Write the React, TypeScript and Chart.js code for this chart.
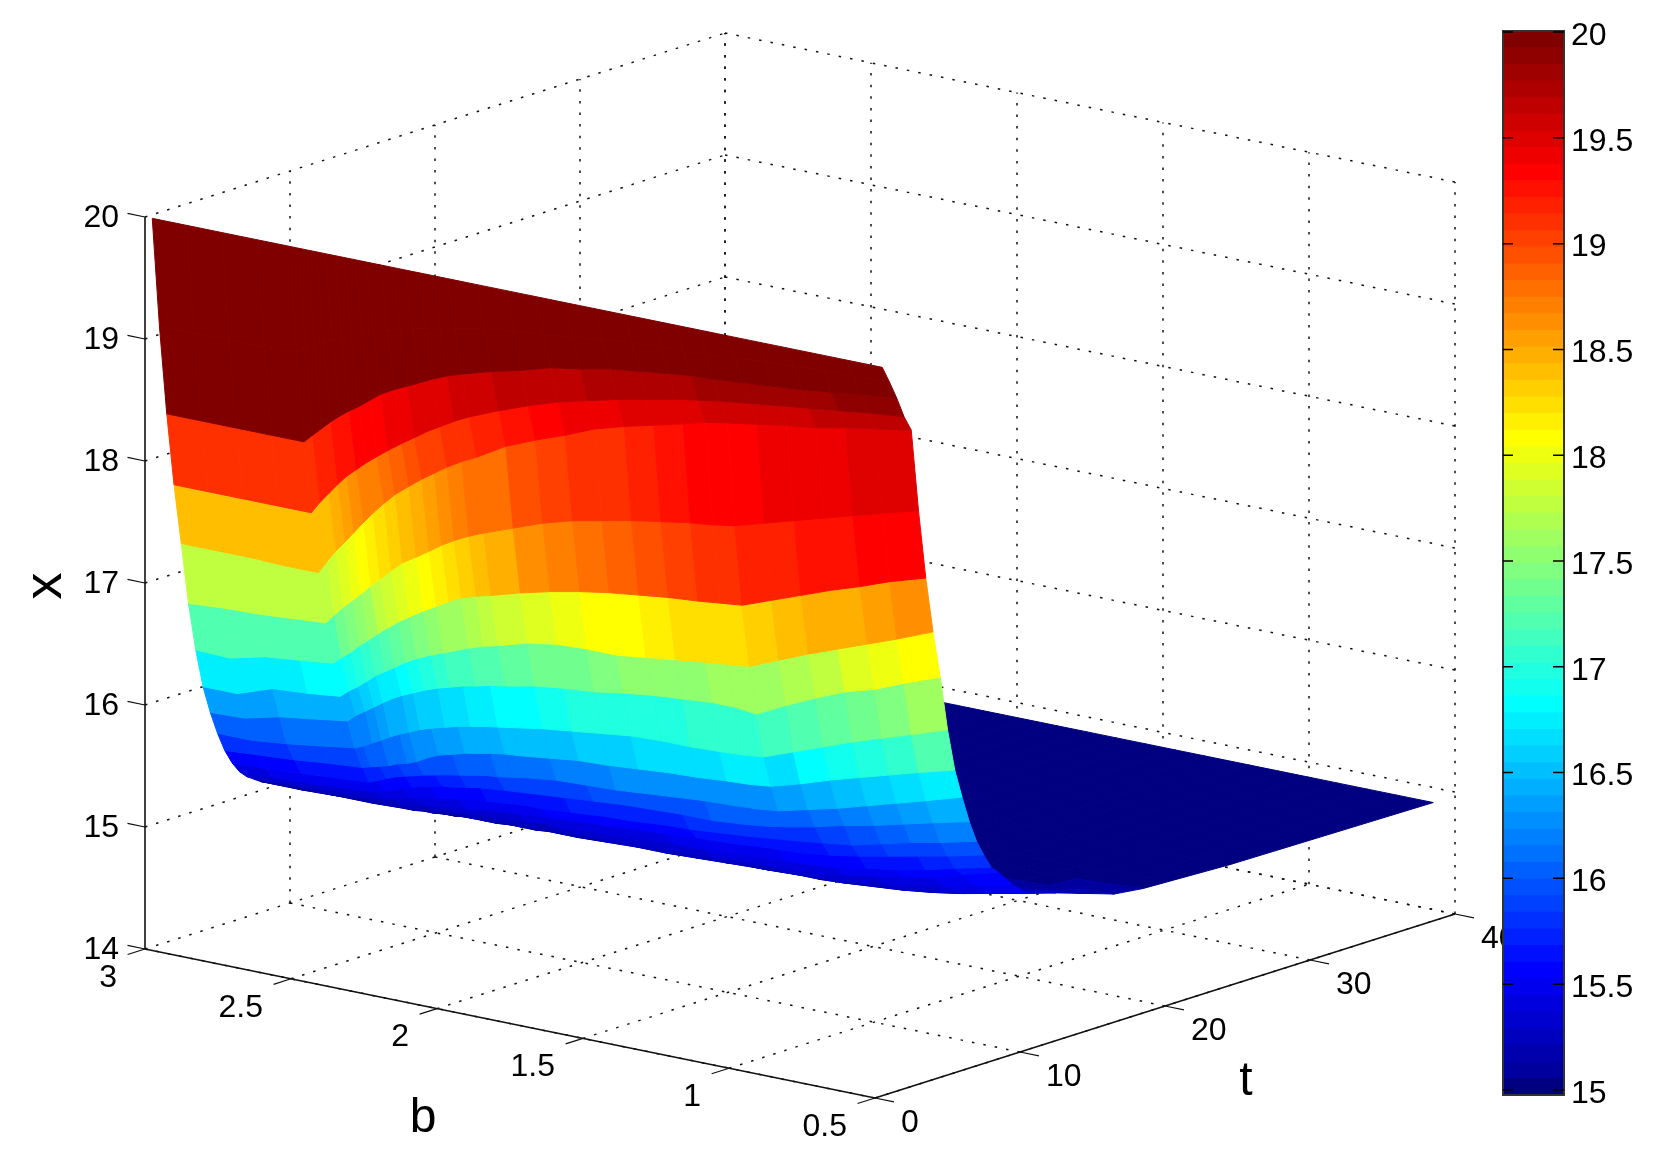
import { useEffect, useRef } from 'react';
import { Chart, registerables } from 'chart.js';

Chart.register(...registerables);

const W = 1659;
const H = 1171;
const FONT = '"Liberation Sans", Arial, sans-serif';

// axis ticks
const bTicks = [3, 2.5, 2, 1.5, 1, 0.5];
const tTicks = [0, 10, 20, 30, 40];
const xTicks = [14, 15, 16, 17, 18, 19, 20];
const barTicks = [15, 15.5, 16, 16.5, 17, 17.5, 18, 18.5, 19, 19.5, 20];

// surface grid
const bValues = [
  3, 2.883, 2.762, 2.641, 2.53, 2.5, 2.469, 2.438, 2.408, 2.375, 2.343, 2.305, 2.267, 2.22, 2.176,
  2.133, 2.09, 2.04, 1.989, 1.888, 1.787, 1.685, 1.584, 1.483, 1.382, 1.281, 1.205, 1.129, 1.028,
  0.927, 0.826, 0.725, 0.624, 0.5,
];
const tValues = [
  0.5, 1, 1.5, 2, 2.5, 3, 3.5, 4, 4.5, 5, 5.5, 6, 6.5, 7, 7.5, 8, 8.5, 9.5, 10.5, 12.5, 14.5, 16.5,
  18.5, 20.5, 24.5, 38.5,
];
const xRows = [
  [20, 20, 20, 20, 20, 20, 20, 20, 20, 20, 20, 20, 20, 20, 20, 20, 20, 20, 20, 20, 20, 20, 20, 20, 20, 20, 20, 20, 20, 20, 20, 20, 20, 20],
  [19.09, 19.1, 19.1, 19.1, 19.12, 19.16, 19.2, 19.24, 19.27, 19.3, 19.33, 19.37, 19.41, 19.44, 19.47, 19.5, 19.52, 19.55, 19.57, 19.62, 19.65, 19.67, 19.7, 19.73, 19.75, 19.76, 19.77, 19.78, 19.8, 19.82, 19.83, 19.85, 19.85, 19.86],
  [18.36, 18.36, 18.36, 18.36, 18.36, 18.43, 18.5, 18.57, 18.63, 18.69, 18.74, 18.81, 18.88, 18.94, 18.99, 19.04, 19.09, 19.14, 19.18, 19.25, 19.31, 19.38, 19.42, 19.47, 19.5, 19.53, 19.55, 19.56, 19.58, 19.6, 19.62, 19.65, 19.68, 19.71],
  [17.76, 17.76, 17.76, 17.76, 17.76, 17.86, 17.95, 18.04, 18.12, 18.19, 18.26, 18.33, 18.4, 18.48, 18.55, 18.62, 18.68, 18.75, 18.81, 18.91, 19, 19.08, 19.14, 19.2, 19.25, 19.3, 19.33, 19.36, 19.39, 19.42, 19.45, 19.48, 19.51, 19.54],
  [17.26, 17.26, 17.26, 17.25, 17.25, 17.36, 17.46, 17.55, 17.64, 17.74, 17.83, 17.93, 18.02, 18.11, 18.19, 18.26, 18.33, 18.4, 18.46, 18.6, 18.7, 18.79, 18.89, 18.96, 19.02, 19.08, 19.13, 19.16, 19.2, 19.24, 19.27, 19.32, 19.36, 19.41],
  [16.75, 16.77, 16.78, 16.8, 16.82, 16.9, 16.98, 17.05, 17.12, 17.2, 17.27, 17.36, 17.44, 17.51, 17.58, 17.65, 17.71, 17.77, 17.82, 17.91, 18, 18.07, 18.12, 18.17, 18.21, 18.25, 18.27, 18.3, 18.37, 18.44, 18.51, 18.58, 18.65, 18.73],
  [16.35, 16.34, 16.41, 16.44, 16.47, 16.53, 16.59, 16.66, 16.72, 16.79, 16.85, 16.92, 16.98, 17.05, 17.11, 17.17, 17.22, 17.26, 17.29, 17.36, 17.42, 17.47, 17.51, 17.54, 17.57, 17.59, 17.61, 17.63, 17.72, 17.81, 17.9, 17.98, 18.07, 18.16],
  [16.03, 16.03, 16.13, 16.15, 16.18, 16.24, 16.29, 16.35, 16.41, 16.46, 16.51, 16.57, 16.62, 16.67, 16.71, 16.75, 16.79, 16.83, 16.86, 16.93, 16.97, 16.98, 16.98, 17.01, 17.04, 17.07, 17.09, 17.11, 17.21, 17.31, 17.4, 17.49, 17.58, 17.7],
  [15.8, 15.81, 15.88, 15.92, 15.96, 16.02, 16.07, 16.12, 16.17, 16.22, 16.26, 16.3, 16.34, 16.38, 16.41, 16.44, 16.46, 16.49, 16.51, 16.56, 16.59, 16.61, 16.65, 16.68, 16.7, 16.72, 16.72, 16.7, 16.82, 16.93, 17.03, 17.1, 17.2, 17.31],
  [15.61, 15.61, 15.64, 15.68, 15.72, 15.75, 15.79, 15.83, 15.87, 15.91, 15.94, 15.98, 16.01, 16.04, 16.07, 16.09, 16.11, 16.13, 16.15, 16.19, 16.22, 16.25, 16.28, 16.29, 16.29, 16.3, 16.31, 16.33, 16.42, 16.51, 16.6, 16.68, 16.76, 16.86],
  [15.45, 15.47, 15.49, 15.52, 15.54, 15.56, 15.58, 15.6, 15.63, 15.65, 15.68, 15.73, 15.77, 15.8, 15.83, 15.85, 15.87, 15.89, 15.9, 15.93, 15.96, 15.97, 15.99, 16.01, 16.02, 16.04, 16.05, 16.07, 16.14, 16.22, 16.29, 16.36, 16.43, 16.51],
  [15.33, 15.34, 15.36, 15.38, 15.4, 15.43, 15.46, 15.49, 15.51, 15.53, 15.55, 15.57, 15.59, 15.61, 15.63, 15.65, 15.66, 15.68, 15.7, 15.73, 15.74, 15.75, 15.77, 15.79, 15.81, 15.82, 15.83, 15.85, 15.91, 15.97, 16.04, 16.11, 16.18, 16.27],
  [15.24, 15.25, 15.26, 15.28, 15.3, 15.32, 15.35, 15.38, 15.4, 15.42, 15.44, 15.46, 15.47, 15.49, 15.51, 15.52, 15.53, 15.54, 15.55, 15.57, 15.59, 15.61, 15.62, 15.63, 15.63, 15.65, 15.67, 15.7, 15.75, 15.81, 15.86, 15.92, 15.98, 16.05],
  [15.18, 15.19, 15.2, 15.21, 15.22, 15.24, 15.26, 15.28, 15.29, 15.31, 15.32, 15.34, 15.35, 15.37, 15.38, 15.39, 15.4, 15.41, 15.41, 15.43, 15.45, 15.46, 15.48, 15.49, 15.51, 15.53, 15.55, 15.57, 15.6, 15.63, 15.69, 15.75, 15.8, 15.87],
  [15.14, 15.15, 15.15, 15.16, 15.17, 15.18, 15.19, 15.2, 15.21, 15.22, 15.23, 15.24, 15.25, 15.27, 15.28, 15.29, 15.3, 15.31, 15.32, 15.34, 15.35, 15.37, 15.38, 15.4, 15.41, 15.43, 15.44, 15.45, 15.48, 15.52, 15.57, 15.62, 15.67, 15.74],
  [15.1, 15.11, 15.11, 15.12, 15.13, 15.13, 15.14, 15.15, 15.15, 15.16, 15.17, 15.18, 15.19, 15.2, 15.2, 15.21, 15.22, 15.23, 15.23, 15.24, 15.25, 15.27, 15.28, 15.29, 15.3, 15.32, 15.33, 15.34, 15.36, 15.4, 15.44, 15.49, 15.55, 15.62],
  [15.07, 15.07, 15.08, 15.08, 15.09, 15.09, 15.1, 15.1, 15.11, 15.12, 15.12, 15.13, 15.13, 15.14, 15.14, 15.15, 15.15, 15.16, 15.16, 15.17, 15.18, 15.19, 15.2, 15.21, 15.22, 15.23, 15.24, 15.25, 15.28, 15.32, 15.36, 15.41, 15.48, 15.56],
  [15.03, 15.03, 15.04, 15.04, 15.05, 15.05, 15.05, 15.05, 15.05, 15.06, 15.06, 15.06, 15.06, 15.07, 15.07, 15.07, 15.08, 15.08, 15.08, 15.09, 15.1, 15.1, 15.11, 15.12, 15.13, 15.14, 15.15, 15.16, 15.18, 15.21, 15.25, 15.29, 15.35, 15.42],
  [15.01, 15.01, 15.01, 15.02, 15.02, 15.02, 15.02, 15.02, 15.02, 15.03, 15.03, 15.03, 15.03, 15.03, 15.03, 15.04, 15.04, 15.04, 15.04, 15.05, 15.05, 15.06, 15.06, 15.07, 15.07, 15.08, 15.08, 15.09, 15.11, 15.13, 15.16, 15.2, 15.25, 15.31],
  [15, 15, 15, 15, 15, 15, 15, 15, 15, 15, 15, 15, 15, 15.01, 15.01, 15.01, 15.01, 15.01, 15.01, 15.02, 15.02, 15.02, 15.03, 15.03, 15.04, 15.04, 15.05, 15.05, 15.07, 15.09, 15.11, 15.14, 15.19, 15.24],
  [15, 15, 15, 15, 15, 15, 15, 15, 15, 15, 15, 15, 15, 15, 15, 15, 15, 15, 15, 15.01, 15.01, 15.01, 15.01, 15.02, 15.02, 15.02, 15.03, 15.03, 15.04, 15.05, 15.07, 15.09, 15.12, 15.16],
  [15, 15, 15, 15, 15, 15, 15, 15, 15, 15, 15, 15, 15, 15, 15, 15, 15, 15, 15, 15, 15, 15, 15, 15.01, 15.01, 15.01, 15.01, 15.01, 15.02, 15.02, 15.03, 15.04, 15.06, 15.08],
  [15, 15, 15, 15, 15, 15, 15, 15, 15, 15, 15, 15, 15, 15, 15, 15, 15, 15, 15, 15, 15, 15, 15, 15, 15, 15, 15, 15, 15, 15.01, 15.01, 15.02, 15.03, 15.05],
  [15, 15, 15, 15, 15, 15, 15, 15, 15, 15, 15, 15, 15, 15, 15, 15, 15, 15, 15, 15, 15, 15, 15, 15, 15, 15, 15, 15, 15, 15, 15, 15.01, 15.02, 15.04],
  [15, 15, 15, 15, 15, 15, 15, 15, 15, 15, 15, 15, 15, 15, 15, 15, 15, 15, 15, 15, 15, 15, 15, 15, 15, 15, 15, 15, 15, 15, 15, 15, 15.01, 15.02],
  [15, 15, 15, 15, 15, 15, 15, 15, 15, 15, 15, 15, 15, 15, 15, 15, 15, 15, 15, 15, 15, 15, 15, 15, 15, 15, 15, 15, 15, 15, 15, 15, 15, 15],
];

// MATLAB style jet, 64 levels
function jetPart(k: number) {
  if (k < 1 || k > 47) return 0;
  if (k <= 16) return k / 16;
  if (k <= 31) return 1;
  return (48 - k) / 16;
}
function jetColor(level: number) {
  if (level === 0) return 'rgb(0,0,128)';
  const i = level + 1;
  const r = Math.round(jetPart(i - 24) * 255);
  const g = Math.round(jetPart(i - 8) * 255);
  const b = Math.round(jetPart(i + 8) * 255);
  return `rgb(${r},${g},${b})`;
}
function colorOf(x: number) {
  const level = Math.max(0, Math.min(63, Math.floor(((x - 15) / 5) * 64)));
  return jetColor(level);
}

// view of the 3D box on the page
function project(b: number, t: number, x: number) {
  const w = (3 - b) / 2.5;
  return {
    x: 145 + 730 * w + 14.5 * t,
    y: 949 + 149 * w - 4.6 * t - 122 * (x - 14),
  };
}

function lineSet(points: { x: number; y: number }[], dotted: boolean, width = 1.2) {
  return {
    data: points,
    borderColor: dotted ? '#111' : '#111',
    borderWidth: dotted ? 1.5 : width,
    borderDash: dotted ? [2.5, 9.1] : [],
    pointRadius: 0,
    fill: false,
    tension: 0,
  };
}

function buildDatasets() {
  const sets: any[] = [];

  // dotted grid on the two back walls and the floor
  xTicks.forEach((x) => {
    if (x > 14) sets.push(lineSet([project(3, 0, x), project(3, 40, x)], true));
    sets.push(lineSet([project(3, 40, x), project(0.5, 40, x)], true));
  });
  tTicks.forEach((t) => {
    if (t > 0) sets.push(lineSet([project(3, t, 14), project(3, t, 20)], true));
    sets.push(lineSet([project(3, t, 14), project(0.5, t, 14)], true));
  });
  bTicks.forEach((b) => {
    sets.push(lineSet([project(b, 40, 14), project(b, 40, 20)], true));
    sets.push(lineSet([project(b, 0, 14), project(b, 40, 14)], true));
  });

  // surface, far cells first. A cell takes the colour of the row before it.
  for (let k = tValues.length - 2; k >= 0; k--) {
    const colourRow = xRows[Math.max(0, k - 1)];
    for (let j = 0; j < bValues.length - 1; j++) {
      const colour = colorOf(colourRow[j]);
      const corner = (r: number, c: number) => project(bValues[c], tValues[r], xRows[r][c] - 0.03);
      sets.push({
        data: [corner(k, j), corner(k, j + 1), corner(k + 1, j + 1), corner(k + 1, j), corner(k, j)],
        backgroundColor: colour,
        borderColor: colour,
        borderWidth: 1,
        pointRadius: 0,
        fill: 'shape',
        tension: 0,
      });
    }
  }

  // solid axes and tick marks
  sets.push(lineSet([project(3, 0, 14), project(3, 0, 20)], false, 1.6));
  sets.push(lineSet([project(3, 0, 14), project(0.5, 0, 14)], false, 1.6));
  sets.push(lineSet([project(0.5, 0, 14), project(0.5, 40, 14)], false, 1.6));
  xTicks.forEach((x) => sets.push(lineSet([project(3, 0, x), project(3.06, 0, x)], false)));
  bTicks.forEach((b) => sets.push(lineSet([project(b, 0, 14), project(b, -1.2, 14)], false)));
  tTicks.forEach((t) => sets.push(lineSet([project(0.5, t, 14), project(0.435, t, 14)], false)));

  // chart.js paints the first dataset on top
  return sets.reverse();
}

const axisText = {
  id: 'axisText',
  afterDraw(chart: any) {
    const { ctx, scales } = chart;
    const px = (p: { x: number; y: number }) => ({
      x: scales.x.getPixelForValue(p.x),
      y: scales.y.getPixelForValue(p.y),
    });
    ctx.save();
    ctx.fillStyle = '#000';
    ctx.textBaseline = 'middle';
    ctx.font = `32px ${FONT}`;
    ctx.textAlign = 'right';
    xTicks.forEach((x) => {
      const p = px(project(3, 0, x));
      ctx.fillText(String(x), p.x - 26, p.y + 1);
    });
    bTicks.forEach((b) => {
      const p = px(project(b, 0, 14));
      ctx.fillText(String(b), p.x - 28, p.y + 29);
    });
    ctx.textAlign = 'left';
    tTicks.forEach((t) => {
      const p = px(project(0.5, t, 14));
      ctx.fillText(String(t), p.x + 26, p.y + 25);
    });
    ctx.textAlign = 'center';
    ctx.font = `48px ${FONT}`;
    ctx.fillText('b', 423, 1119);
    ctx.fillText('t', 1246, 1082);
    ctx.save();
    ctx.translate(50, 586);
    ctx.rotate(-Math.PI / 2);
    ctx.font = `54px ${FONT}`;
    ctx.fillText('x', 0, -4);
    ctx.restore();
    ctx.restore();
  },
};

const barFrame = {
  id: 'barFrame',
  afterDraw(chart: any) {
    const { ctx, chartArea, scales } = chart;
    const { left, right, top, bottom } = chartArea;
    ctx.save();
    ctx.strokeStyle = '#333';
    ctx.lineWidth = 2;
    ctx.strokeRect(left, top, right - left, bottom - top);
    ctx.strokeStyle = '#000';
    ctx.lineWidth = 1.5;
    barTicks.forEach((v) => {
      const y = scales.y.getPixelForValue(v);
      ctx.beginPath();
      ctx.moveTo(left, y);
      ctx.lineTo(left + 10, y);
      ctx.moveTo(right - 11, y);
      ctx.lineTo(right, y);
      ctx.stroke();
    });
    ctx.restore();
  },
};

export default function App() {
  const mainRef = useRef<HTMLCanvasElement>(null);
  const barRef = useRef<HTMLCanvasElement>(null);

  useEffect(() => {
    if (!mainRef.current || !barRef.current) return;

    const main = new Chart(mainRef.current, {
      type: 'line',
      data: { datasets: buildDatasets() },
      plugins: [axisText],
      options: {
        animation: false,
        responsive: false,
        events: [],
        layout: { padding: 0 },
        scales: {
          x: { type: 'linear', display: false, min: 0, max: W },
          y: { type: 'linear', display: false, min: 0, max: H, reverse: true },
        },
        plugins: { legend: { display: false }, tooltip: { enabled: false } },
      },
    } as any);

    // colour bar: one band per colormap level, lowest band on top
    const barMin = 14.976;
    const barMax = 20.005;
    const bands = Array.from({ length: 64 }, (_, i) => ({
      data: [[barMin, barMin + ((barMax - barMin) * (i + 1)) / 64]],
      backgroundColor: jetColor(i),
      borderWidth: 0,
      barPercentage: 1,
      categoryPercentage: 1,
    }));
    const bar = new Chart(barRef.current, {
      type: 'bar',
      data: { labels: [''], datasets: bands },
      plugins: [barFrame],
      options: {
        animation: false,
        responsive: false,
        events: [],
        layout: { padding: { left: 13, top: 31, bottom: 76, right: 0 } },
        scales: {
          x: { stacked: true, display: false },
          y: {
            position: 'right',
            min: barMin,
            max: barMax,
            grid: { display: false, tickLength: 0 },
            border: { display: false },
            afterBuildTicks: (scale: any) => {
              scale.ticks = barTicks.map((value) => ({ value }));
            },
            afterFit: (scale: any) => {
              scale.width = 95;
            },
            ticks: {
              padding: 7,
              labelOffset: 4,
              color: '#000',
              font: { size: 32, family: FONT },
              autoSkip: false,
              maxRotation: 0,
              callback: (v: any) => String(v),
            },
          },
        },
        plugins: { legend: { display: false }, tooltip: { enabled: false } },
      },
    } as any);

    return () => {
      main.destroy();
      bar.destroy();
    };
  }, []);

  return (
    <div style={{ position: 'absolute', left: 0, top: 0, width: W, height: H, background: '#fff' }}>
      <canvas ref={mainRef} width={W} height={H} style={{ position: 'absolute', left: 0, top: 0 }} />
      <canvas ref={barRef} width={169} height={H} style={{ position: 'absolute', left: 1490, top: 0 }} />
    </div>
  );
}
